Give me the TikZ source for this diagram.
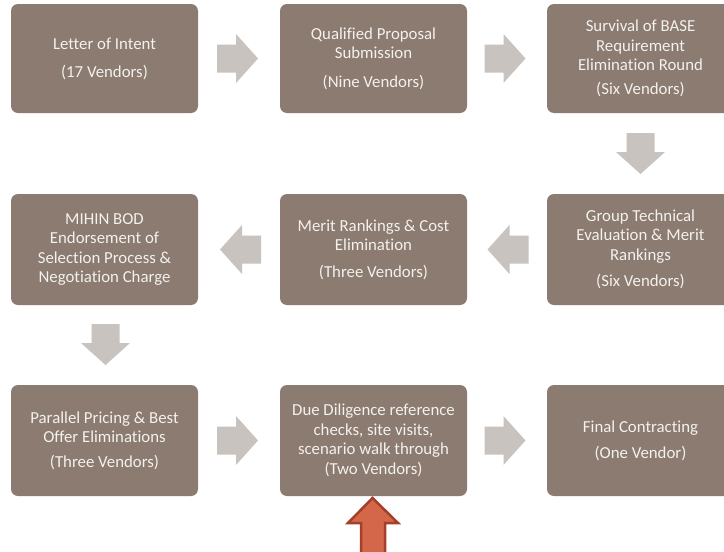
\documentclass[tikz,border=0pt]{standalone}
\usepackage{fontspec}
\setmainfont{Carlito}[Ligatures={NoCommon}]
\usetikzlibrary{calc}
\definecolor{boxbrown}{RGB}{139,123,112}
\definecolor{arrowgray}{RGB}{201,195,191}
\definecolor{boxtext}{RGB}{244,241,238}
\definecolor{redfill}{RGB}{212,102,74}
\definecolor{redline}{RGB}{163,64,42}
\tikzset{
  stagebox/.style={rectangle, rounded corners=7pt, fill=boxbrown, text=boxtext,
    minimum width=187pt, minimum height=110pt, inner sep=0pt, align=center,
    font=\fontsize{16.8}{19.5}\selectfont},
  blockarrow/.pic={\fill[arrowgray] (-20.5,-14) -- (-1.5,-14) -- (-1.5,-24.5) -- (20.5,0)
    -- (-1.5,24.5) -- (-1.5,14) -- (-20.5,14) -- cycle;}
}
\begin{document}
\begin{tikzpicture}[x=1pt,y=-1pt]
\clip (0,0) rectangle (724,552);
\fill[white] (0,0) rectangle (724,552);
% row 1
\node[stagebox, minimum height=109pt] (loi) at (104.5,58.5) {Letter of Intent\\[8.5pt](17 Vendors)};
\node[stagebox, minimum height=109pt] (qps) at (373.5,58.5) {Qualified Proposal\\Submission\\[9pt](Nine Vendors)};
\node[stagebox, minimum height=109pt] (base) at (640.5,58.5) {Survival of BASE\\Requirement\\Elimination Round\\[4pt](Six Vendors)};
% row 2
\node[stagebox, minimum height=111pt] (gte) at (640.5,249.5) {Group Technical\\Evaluation \& Merit\\Rankings\\[7pt](Six Vendors)};
\node[stagebox, minimum height=111pt] (mrc) at (373.5,249.5) {Merit Rankings \& Cost\\Elimination\\[7pt](Three Vendors)};
\node[stagebox, minimum height=111pt] (bod) at (104.5,249.5) {MIHIN BOD\\Endorsement of\\Selection Process \&\\Negotiation Charge};
% row 3
\node[stagebox, minimum height=111pt] (ppb) at (104.5,440.5) {Parallel Pricing \& Best\\Offer Eliminations\\[5pt](Three Vendors)};
\node[stagebox, minimum height=111pt] (dd) at (373.5,440.5) {Due Diligence reference\\checks, site visits,\\scenario walk through\\(Two Vendors)};
\node[stagebox, minimum height=111pt] (fc) at (640.5,440.5) {Final Contracting\\[6.5pt](One Vendor)};
% block arrows between stages
\pic at ($(loi.east)!0.5!(qps.west)+(-1.5,0)$) {blockarrow};
\pic at ($(qps.east)!0.5!(base.west)+(-2,0)$) {blockarrow};
\pic[rotate=-90] at ($(base.south)!0.5!(gte.north)$) {blockarrow};
\pic[rotate=180] at ($(gte.west)!0.5!(mrc.east)+(1,0)$) {blockarrow};
\pic[rotate=180] at ($(mrc.west)!0.5!(bod.east)+(1.5,0)$) {blockarrow};
\pic[rotate=-90] at ($(bod.south)!0.5!(ppb.north)+(1,-0.5)$) {blockarrow};
\pic at ($(ppb.east)!0.5!(dd.west)+(-1.5,0)$) {blockarrow};
\pic at ($(dd.east)!0.5!(fc.west)+(-2,0)$) {blockarrow};
% red arrow pointing at the due diligence stage
\coordinate (redtip) at (372.5,498);
\draw[fill=redfill, draw=redline, line width=2.5pt, line join=miter]
  (redtip) -- ++(25.5,25) -- ++(-13,0) -- ++(0,40) -- ++(-24,0) -- ++(0,-40) -- ++(-13,0) -- cycle;
\end{tikzpicture}
\end{document}
